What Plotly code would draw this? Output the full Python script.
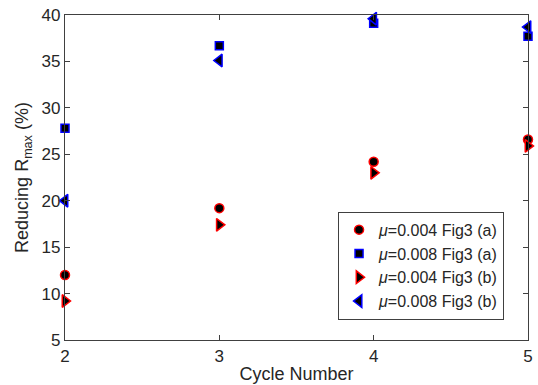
import plotly.graph_objects as go

cycles = [2, 3, 4, 5]
mu004_a = [12.0, 19.2, 24.2, 26.6]
mu008_a = [27.8, 36.7, 39.1, 37.7]
mu004_b = [9.2, 17.4, 23.0, 25.9]
mu008_b = [20.0, 35.1, 39.6, 38.7]
names = ["<i>μ</i>=0.004 Fig3 (a)", "<i>μ</i>=0.008 Fig3 (a)",
         "<i>μ</i>=0.004 Fig3 (b)", "<i>μ</i>=0.008 Fig3 (b)"]
y_ticks = [5, 10, 15, 20, 25, 30, 35, 40]

series = [
    (mu004_a, "circle", "red", 9),
    (mu008_a, "square", "blue", 8),
    (mu004_b, "triangle-right", "red", 11),
    (mu008_b, "triangle-left", "blue", 11),
]

fig = go.Figure()
for (vals, sym, edge, size), name in zip(series, names):
    fig.add_trace(go.Scatter(
        x=cycles, y=vals, mode="markers", name=name,
        marker=dict(symbol=sym, color="black", size=size,
                    line=dict(color=edge, width=1.5)),
        cliponaxis=False,
    ))

axis_common = dict(
    showgrid=False, zeroline=False, showline=True, linecolor="#404040",
    linewidth=1.2, mirror="ticks", ticks="inside", ticklen=5,
    tickcolor="#404040", tickfont=dict(size=17, color="#262626"),
)
fig.update_layout(
    width=538, height=385,
    margin=dict(l=65, r=5, t=15, b=44),
    paper_bgcolor="white", plot_bgcolor="white",
    font=dict(family="Liberation Sans, Arial", size=17, color="#262626"),
    xaxis=dict(range=[2, 5], tickvals=cycles,
               title=dict(text="Cycle Number", standoff=2, font=dict(size=18)),
               **axis_common),
    yaxis=dict(range=[5, 40], tickvals=y_ticks,
               title=dict(text="Reducing R<sub>max</sub> (%)", standoff=8, font=dict(size=18)),
               **axis_common),
    legend=dict(x=0.769, y=0.2285, xanchor="center", yanchor="middle",
                bgcolor="white", bordercolor="#404040", borderwidth=1,
                font=dict(size=16, color="#262626"), tracegroupgap=0),
    showlegend=True,
)
fig.write_html("out.html", config={"displayModeBar": False},
               post_script="document.body.style.margin='0';document.body.style.overflow='hidden';")
